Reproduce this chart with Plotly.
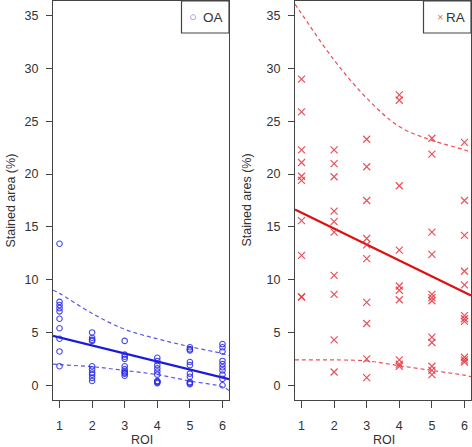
import plotly.graph_objects as go

# ---- data ----
roi_ticks = [1, 2, 3, 4, 5, 6]

oa_roi = [1]*10 + [2]*10 + [3]*10 + [4]*10 + [5]*10 + [6]*10
oa_val = [13.4, 7.9, 7.6, 7.3, 7.0, 6.3, 5.4, 4.4, 3.2, 1.8,
          5.0, 4.5, 4.3, 4.2, 1.8, 1.5, 1.2, 1.0, 0.7, 0.4,
          4.2, 2.9, 2.7, 2.5, 1.8, 1.5, 1.3, 1.1, 0.9, 1.2,
          2.6, 2.3, 1.9, 1.6, 1.3, 1.0, 0.4, 0.3, 0.2, 0.35,
          3.6, 3.4, 3.3, 2.2, 1.9, 1.1, 0.8, 0.3, 0.2, 0.1,
          3.9, 3.6, 3.2, 2.3, 2.0, 1.7, 1.4, 1.0, 0.6, 0.0]

ra_roi = [1]*10 + [2]*10 + [3]*10 + [4]*10 + [5]*12 + [6]*11
ra_val = [29.0, 25.9, 22.3, 21.1, 19.8, 19.4, 15.6, 12.3, 8.4, 8.35,
          22.3, 21.0, 19.75, 16.5, 15.5, 14.5, 10.4, 8.6, 4.3, 1.25,
          23.3, 20.7, 17.5, 13.9, 13.3, 12.0, 7.85, 5.85, 2.5, 0.72,
          27.5, 27.0, 18.9, 12.8, 9.4, 9.0, 8.1, 2.4, 2.0, 1.8,
          23.4, 21.9, 14.5, 12.4, 8.6, 8.3, 8.0, 4.55, 4.05, 1.8, 1.4, 1.0,
          23.0, 17.5, 14.2, 10.8, 9.5, 6.6, 6.3, 6.05, 2.65, 2.4, 2.2]

fit_x = [0.8, 6.2]
oa_fit = [4.68, 0.57]
ra_fit = [16.65, 8.5]

band_x = [0.8, 1, 2, 3, 4, 5, 6, 6.2]
oa_upper = [9.0, 8.7, 6.8, 5.3, 4.4, 3.65, 3.0, 2.8]
oa_lower = [2.0, 1.95, 1.75, 1.4, 1.0, 0.4, -0.15, -0.5]
ra_upper = [36.1, 35.2, 30.8, 27.2, 24.5, 23.2, 22.3, 22.05]
ra_lower = [2.4, 2.4, 2.4, 2.3, 1.85, 1.4, 0.95, 0.82]

y_ticks = [0, 5, 10, 15, 20, 25, 30, 35]

series_names = ["OA", "RA"]
y_titles = ["Stained area (%)", "Stained ares (%)"]
x_title = "ROI"

# ---- styles ----
FONT = "Liberation Sans, Arial, sans-serif"
TXT = "#333333"
AX = "#444444"
BLUE = "#1a1adb"
BLUE_PT = "rgba(40,40,230,0.85)"
BLUE_DASH = "#5a5ae6"
RED = "#dd1111"
RED_PT = "rgba(232,50,60,0.85)"
RED_DASH = "#e8505a"
DASH = "4px,3px"

W, H = 472, 447

fig = go.Figure()

# OA panel
for yy in (oa_upper, oa_lower):
    fig.add_trace(go.Scatter(x=band_x, y=yy, mode="lines",
                             line=dict(color=BLUE_DASH, dash=DASH, width=1.2, shape="spline"),
                             xaxis="x", yaxis="y", showlegend=False, hoverinfo="skip"))
fig.add_trace(go.Scatter(x=fit_x, y=oa_fit, mode="lines", line=dict(color=BLUE, width=2.2),
                         xaxis="x", yaxis="y", showlegend=False))
fig.add_trace(go.Scatter(x=oa_roi, y=oa_val, mode="markers", name=series_names[0],
                         marker=dict(symbol="circle-open", size=5.5, color=BLUE_PT, line=dict(width=1.1)),
                         xaxis="x", yaxis="y", showlegend=False))

# RA panel
for yy in (ra_upper, ra_lower):
    fig.add_trace(go.Scatter(x=band_x, y=yy, mode="lines",
                             line=dict(color=RED_DASH, dash=DASH, width=1.2, shape="spline"),
                             xaxis="x2", yaxis="y2", showlegend=False, hoverinfo="skip"))
fig.add_trace(go.Scatter(x=fit_x, y=ra_fit, mode="lines", line=dict(color=RED, width=2.2),
                         xaxis="x2", yaxis="y2", showlegend=False))
fig.add_trace(go.Scatter(x=ra_roi, y=ra_val, mode="markers", name=series_names[1],
                         marker=dict(symbol="x-thin-open", size=7, color=RED_PT, line=dict(width=1.2, color=RED_PT)),
                         xaxis="x2", yaxis="y2", showlegend=False))

xdom1 = [53 / W, 229 / W]
xdom2 = [295 / W, 471 / W]
ydom = [1 - 400 / H, 1 - 1 / H]

def xaxis(dom, anchor):
    return dict(domain=dom, anchor=anchor, range=[0.8, 6.2], tickvals=roi_ticks,
                showline=True, mirror=True, linecolor=AX, linewidth=1.3,
                ticks="outside", ticklen=7, tickcolor=AX, tickwidth=1,
                showgrid=False, zeroline=False, ticklabelstandoff=7,
                tickfont=dict(size=12.5, color=TXT, family=FONT))

def yaxis(anchor):
    return dict(domain=ydom, anchor=anchor, range=[-1.4, 36.4], tickvals=y_ticks,
                showline=True, mirror=True, linecolor=AX, linewidth=1.3,
                ticks="outside", ticklen=6, tickcolor=AX, tickwidth=1,
                showgrid=False, zeroline=False, ticklabelstandoff=5,
                tickfont=dict(size=12.5, color=TXT, family=FONT))

def px_x(v):
    return v / W

def px_y(v):
    return 1 - v / H

ymid = (ydom[0] + ydom[1]) / 2
annots = [
    dict(text=y_titles[0], x=px_x(10), y=ymid, textangle=-90),
    dict(text=y_titles[1], x=px_x(246), y=ymid, textangle=-90),
    dict(text=x_title, x=(xdom1[0] + xdom1[1]) / 2 + px_x(1), y=px_y(439.5)),
    dict(text=x_title, x=(xdom2[0] + xdom2[1]) / 2 + px_x(1), y=px_y(439.5)),
    # legend texts
    dict(text=series_names[0], x=px_x(212.5), y=px_y(17.5), font=dict(size=13.5, color=TXT, family=FONT)),
    dict(text=series_names[1], x=px_x(455.5), y=px_y(17.5), font=dict(size=13.5, color=TXT, family=FONT)),
    # legend symbols
    dict(text="○", x=px_x(192.7), y=px_y(17.3), font=dict(size=7, color=BLUE, family="DejaVu Sans")),
    dict(text="×", x=px_x(440), y=px_y(17.0), font=dict(size=8, color=RED_DASH, family="DejaVu Sans")),
]
for a in annots:
    a.setdefault("font", dict(size=12.5, color=TXT, family=FONT))
    a.update(xref="paper", yref="paper", showarrow=False, xanchor="center", yanchor="middle")

shapes = [
    dict(type="rect", xref="paper", yref="paper", x0=px_x(181.5), x1=px_x(229), y0=px_y(33), y1=px_y(1),
         line=dict(color=AX, width=1.2), fillcolor="white", layer="above"),
    dict(type="rect", xref="paper", yref="paper", x0=px_x(423.5), x1=px_x(471), y0=px_y(33), y1=px_y(1),
         line=dict(color=AX, width=1.2), fillcolor="white", layer="above"),
]

fig.update_layout(
    width=W, height=H,
    margin=dict(l=0, r=0, t=0, b=0),
    paper_bgcolor="white", plot_bgcolor="white",
    font=dict(family=FONT, color=TXT, size=12.5),
    xaxis=xaxis(xdom1, "y"),
    yaxis=yaxis("x"),
    xaxis2=xaxis(xdom2, "y2"),
    yaxis2=yaxis("x2"),
    annotations=annots,
    shapes=shapes,
)

fig.write_html("out.html", config={"displayModeBar": False},
               post_script="document.body.style.margin='0';document.body.style.overflow='hidden';")
